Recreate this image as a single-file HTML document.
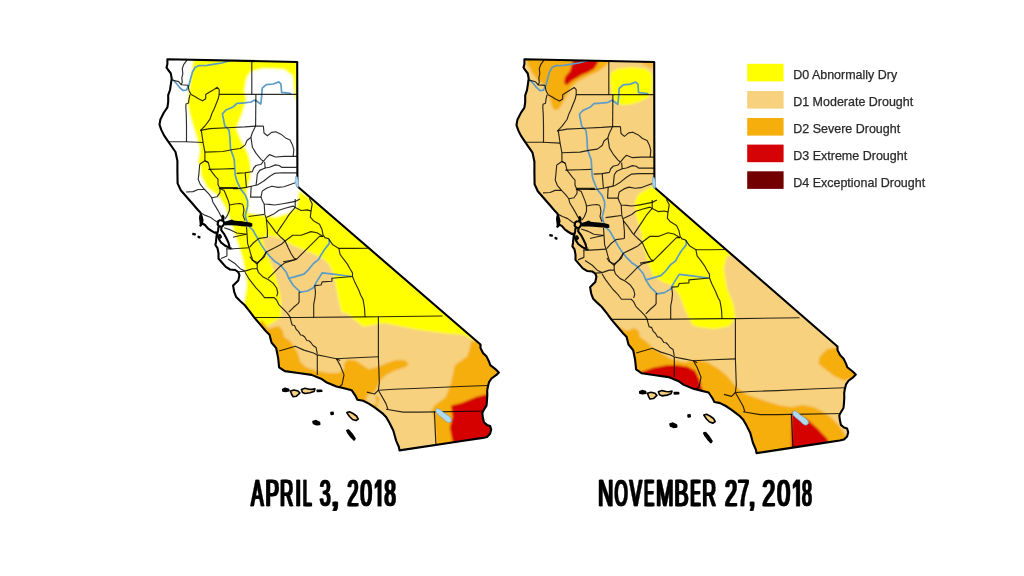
<!DOCTYPE html>
<html><head><meta charset="utf-8"><style>
html,body{margin:0;padding:0;background:#fff;width:1024px;height:576px;overflow:hidden;position:relative;font-family:"Liberation Sans",sans-serif;}
</style></head><body>
<svg width="1024" height="576" viewBox="0 0 1024 576" style="position:absolute;left:0;top:0;filter:blur(0.35px)">
<defs>
<clipPath id="ca"><polygon points="167.4,59.2 167.4,63.9 166.5,67.4 168.2,70.0 170.8,73.4 171.7,78.6 170.8,84.7 170.0,90.0 168.2,95.1 168.2,102.0 167.4,107.3 163.9,112.5 160.4,119.4 159.5,124.6 161.3,129.9 163.9,135.1 167.4,140.3 171.0,145.5 175.5,152.0 177.4,160.8 177.4,171.3 177.6,183.4 180.8,190.3 186.9,197.3 193.0,204.2 198.2,210.3 200.4,212.5 201.5,216.0 202.5,220.0 201.5,224.0 200.4,225.5 202.5,223.5 205.0,225.0 208.0,228.5 211.5,230.8 214.9,232.8 216.8,232.6 216.6,235.4 216.0,241.7 215.4,245.0 217.5,248.1 218.5,253.3 218.5,258.5 221.7,262.2 225.8,266.9 230.0,269.5 235.2,270.0 238.3,272.1 239.4,275.2 238.3,280.4 235.2,283.5 233.1,285.6 234.2,291.9 236.2,297.1 240.4,301.2 244.6,305.0 249.3,310.8 254.5,317.8 259.7,323.9 265.7,331.0 269.5,334.8 271.5,342.5 276.2,348.2 278.1,357.7 279.1,367.3 284.8,371.1 298.2,373.0 311.6,374.9 321.1,378.7 326.8,382.6 336.4,386.4 344.0,388.3 351.6,390.2 355.5,395.9 357.4,399.7 363.1,400.7 368.8,403.6 374.6,407.4 382.2,413.1 386.0,416.9 389.0,422.0 393.3,430.5 396.0,440.3 398.9,447.0 399.5,450.4 462.0,441.0 482.8,437.9 487.0,436.9 490.1,433.8 491.2,429.6 490.1,425.9 487.0,424.9 483.9,422.3 482.8,417.1 482.3,412.9 483.9,409.8 486.5,405.6 487.0,400.4 487.3,395.0 487.2,390.7 487.8,387.0 489.0,382.2 491.5,378.5 496.4,374.9 498.8,372.4 495.1,368.8 490.3,365.1 489.0,361.5 486.6,356.6 483.0,353.0 480.5,348.1 480.5,344.5 299.0,187.8 297.4,186.0 297.2,62.0"/></clipPath>
<filter id="soft" x="-5%" y="-5%" width="110%" height="110%"><feGaussianBlur stdDeviation="0.9"/></filter>
</defs>
<g><g clip-path="url(#ca)"><g filter="url(#soft)"><rect x="100" y="40" width="450" height="430" fill="#ffffff"/><polygon points="240.0,330.0 262.5,237.5 270.8,235.4 281.2,238.5 291.7,244.8 304.2,250.0 314.6,254.2 323.0,258.3 329.2,264.6 333.3,273.0 335.4,283.3 337.5,293.8 339.6,304.2 341.7,312.5 346.0,312.8 363.3,326.7 384.0,320.0 419.0,326.0 446.7,329.0 467.5,331.0 500.0,328.0 500.0,460.0 240.0,460.0" fill="#f7d17e" /><polygon points="193.5,58.0 297.5,58.0 297.5,103.0 294.6,96.7 293.5,86.2 292.5,75.8 284.2,69.6 263.3,68.5 250.8,71.7 246.7,77.9 244.6,90.4 246.7,98.8 242.5,113.3 238.3,123.8 236.2,128.0 240.4,138.3 244.6,146.7 248.8,155.0 250.8,165.4 250.8,177.5 246.7,192.0 248.8,200.4 248.8,213.0 263.3,215.0 275.8,217.0 288.3,213.0 296.7,206.7 299.0,190.0 500.0,338.0 476.0,341.0 472.0,339.0 462.0,334.5 446.7,333.6 419.0,330.0 384.0,323.0 363.3,326.7 346.0,312.8 341.7,312.5 339.6,304.2 337.5,293.8 335.4,283.3 333.3,273.0 329.2,264.6 323.0,258.3 314.6,254.2 304.2,250.0 291.7,244.8 281.2,238.5 270.8,235.4 262.5,237.5 264.6,248.0 268.8,258.3 273.0,268.8 277.0,281.2 280.2,293.8 281.2,304.2 281.2,316.7 277.0,320.0 266.7,326.5 240.0,330.0 246.7,285.0 244.6,269.0 242.5,258.8 239.4,248.3 235.2,235.8 232.0,225.4 228.0,215.0 224.8,206.7 218.5,196.2 207.0,188.0 200.8,175.4 199.8,165.0 197.7,163.3 199.8,148.8 195.6,134.2 190.4,117.5 187.3,102.9 189.4,86.2 191.5,71.7" fill="#ffff00" /><polygon points="262.0,320.0 268.6,329.1 273.4,327.2 279.1,326.2 282.9,331.0 283.9,336.7 290.5,341.5 294.4,347.2 298.2,353.9 300.1,361.6 305.8,367.3 317.3,371.1 328.7,373.0 338.3,373.0 344.0,369.2 344.0,363.5 347.8,359.6 355.5,360.6 363.1,365.4 368.8,369.2 376.5,367.3 386.0,363.5 395.6,360.0 405.1,360.0 408.9,364.4 405.1,367.3 393.7,371.1 386.0,374.9 380.3,380.6 377.4,386.4 374.6,392.1 368.8,394.0 366.0,397.8 367.0,402.0 372.0,405.0 378.0,404.0 379.3,398.0 375.0,394.5 380.0,420.0 340.0,400.0 270.0,380.0 255.0,330.0" fill="#f6ae0c" /><polygon points="472.0,341.5 470.8,342.0 469.6,349.3 467.2,356.6 459.9,361.5 455.0,365.1 453.9,369.4 451.0,383.3 445.6,397.2 434.4,405.6 431.7,409.7 434.4,419.4 435.8,438.9 437.0,446.0 500.0,446.0 500.0,338.0" fill="#f6ae0c" /><polygon points="451.0,405.5 462.0,402.8 476.0,397.0 485.8,394.4 495.0,394.0 495.0,446.0 452.5,446.0 452.5,441.7 449.7,427.8 452.5,416.7" fill="#d50206" /></g><polyline points="172.6,79.5 176.0,83.0 179.5,87.3 183.0,90.5 186.5,90.0 189.0,85.0 190.8,78.0 192.5,72.0 195.0,67.5 199.0,65.6 207.0,65.4 216.0,63.9 221.7,63.0 228.0,61.2 235.0,59.5" fill="none" stroke="#5c9cc6" stroke-width="1.7" stroke-linejoin="round"/><polyline points="244.7,102.8 237.0,103.4 233.0,107.0 226.0,110.0 222.4,113.9 224.8,125.8 229.0,130.0 230.0,138.3 230.5,148.8 234.2,159.2 235.2,175.0 236.6,180.1 240.3,188.6 245.2,194.7 247.6,200.8 247.6,206.1 245.2,215.8 247.6,224.0" fill="none" stroke="#5c9cc6" stroke-width="1.7" stroke-linejoin="round"/><polyline points="244.7,102.8 251.0,102.0 255.0,100.0 260.8,104.0 261.5,97.8 262.2,88.1 266.3,84.6 273.3,84.0 278.8,81.9 280.9,84.0 281.6,92.3 288.5,93.0 291.3,93.7" fill="none" stroke="#5c9cc6" stroke-width="1.7" stroke-linejoin="round"/><polyline points="247.6,224.0 248.6,225.9 252.8,230.0 257.0,237.3 261.1,244.6 265.3,250.9 269.5,256.0 274.7,261.3 280.3,265.0 286.3,272.3 288.8,278.3 293.6,277.1 303.9,274.1 308.8,269.3 313.7,263.2 318.5,259.6 321.0,255.0 324.3,249.7 329.2,243.6 329.2,238.8" fill="none" stroke="#5c9cc6" stroke-width="1.7" stroke-linejoin="round"/><polyline points="288.8,278.3 293.0,285.0 300.3,292.2 307.6,291.0 313.7,287.4 316.1,282.6 322.2,272.9 333.1,274.1 351.3,276.5" fill="none" stroke="#5c9cc6" stroke-width="1.7" stroke-linejoin="round"/><polyline points="187.0,60.2 183.8,64.4 182.3,68.5 182.8,73.8 181.8,77.9 182.3,82.1 181.2,84.7" fill="none" stroke="#000" stroke-opacity="0.82" stroke-width="1.15" stroke-linejoin="round"/><polyline points="170.3,79.5 178.6,81.6 181.2,84.7 188.0,85.2" fill="none" stroke="#000" stroke-opacity="0.82" stroke-width="1.15" stroke-linejoin="round"/><polyline points="188.0,85.2 189.0,90.4 191.1,94.6 195.3,96.7 198.4,98.8 202.6,100.8 205.7,98.8 205.7,94.6 208.8,92.5 214.0,89.4 217.2,87.3 219.2,89.4 219.2,94.4 297.5,94.4" fill="none" stroke="#000" stroke-opacity="0.82" stroke-width="1.15" stroke-linejoin="round"/><polyline points="251.8,59.5 251.8,94.4" fill="none" stroke="#000" stroke-opacity="0.82" stroke-width="1.15" stroke-linejoin="round"/><polyline points="190.0,94.6 189.0,98.8 188.5,103.0 186.0,104.0 185.8,107.0 186.3,115.0 186.5,125.0 186.5,142.0" fill="none" stroke="#000" stroke-opacity="0.82" stroke-width="1.15" stroke-linejoin="round"/><polyline points="219.2,94.4 218.2,98.8 216.1,104.0 214.0,109.2 212.0,113.3 210.0,119.1 204.9,126.0 200.5,130.4" fill="none" stroke="#000" stroke-opacity="0.82" stroke-width="1.15" stroke-linejoin="round"/><polyline points="200.5,130.4 210.0,128.6 227.4,127.8 244.8,126.9 255.6,126.1 263.4,126.1" fill="none" stroke="#000" stroke-opacity="0.82" stroke-width="1.15" stroke-linejoin="round"/><polyline points="255.9,94.4 255.6,126.1" fill="none" stroke="#000" stroke-opacity="0.82" stroke-width="1.15" stroke-linejoin="round"/><polyline points="263.4,126.1 264.0,133.0 267.4,135.8 271.6,132.4 275.8,131.7 281.3,134.4 285.5,137.9 290.1,140.0 292.5,144.9 293.8,149.7 293.2,156.4" fill="none" stroke="#000" stroke-opacity="0.82" stroke-width="1.15" stroke-linejoin="round"/><polyline points="200.5,130.4 201.4,131.2 203.1,142.5" fill="none" stroke="#000" stroke-opacity="0.82" stroke-width="1.15" stroke-linejoin="round"/><polyline points="168.5,141.7 185.8,141.7 203.1,142.5" fill="none" stroke="#000" stroke-opacity="0.82" stroke-width="1.15" stroke-linejoin="round"/><polyline points="203.1,142.5 204.9,152.1 204.9,160.8 208.3,162.5" fill="none" stroke="#000" stroke-opacity="0.82" stroke-width="1.15" stroke-linejoin="round"/><polyline points="255.6,126.1 252.2,133.0 250.8,137.5 247.0,140.5 245.2,144.9 240.3,148.5 233.0,149.5 223.0,151.5 204.9,152.1" fill="none" stroke="#000" stroke-opacity="0.82" stroke-width="1.15" stroke-linejoin="round"/><polyline points="251.0,137.5 252.4,147.3 256.1,153.4 261.0,159.4 263.4,161.3" fill="none" stroke="#000" stroke-opacity="0.82" stroke-width="1.15" stroke-linejoin="round"/><polyline points="263.4,161.3 267.0,157.0 269.5,154.6 275.5,157.0 284.0,156.4 297.4,156.4" fill="none" stroke="#000" stroke-opacity="0.82" stroke-width="1.15" stroke-linejoin="round"/><polyline points="263.4,161.3 261.0,164.3 256.1,165.5 253.7,168.0 252.4,171.6 245.2,172.8 236.6,173.4" fill="none" stroke="#000" stroke-opacity="0.82" stroke-width="1.15" stroke-linejoin="round"/><polyline points="264.6,161.9 265.2,168.0 269.5,167.3 275.5,164.9 279.2,165.5 281.6,167.3 297.4,167.3" fill="none" stroke="#000" stroke-opacity="0.82" stroke-width="1.15" stroke-linejoin="round"/><polyline points="265.2,168.0 259.7,170.4 257.3,174.0 256.7,180.1 256.1,185.0" fill="none" stroke="#000" stroke-opacity="0.82" stroke-width="1.15" stroke-linejoin="round"/><polyline points="257.3,185.0 263.4,181.3 269.5,176.5 274.3,173.4 281.6,172.8 297.4,172.8" fill="none" stroke="#000" stroke-opacity="0.82" stroke-width="1.15" stroke-linejoin="round"/><polyline points="245.2,172.8 245.8,180.1 246.4,187.4" fill="none" stroke="#000" stroke-opacity="0.82" stroke-width="1.15" stroke-linejoin="round"/><polyline points="233.0,188.6 237.9,188.6 246.4,187.4 251.2,186.2 257.3,185.0" fill="none" stroke="#000" stroke-opacity="0.82" stroke-width="1.15" stroke-linejoin="round"/><polyline points="262.2,191.0 267.0,188.0 271.9,186.2 278.0,187.4 284.0,186.8 292.5,183.7 296.0,182.5" fill="none" stroke="#000" stroke-opacity="0.82" stroke-width="1.15" stroke-linejoin="round"/><polyline points="251.2,186.2 250.6,197.1 261.0,197.1 262.2,191.0" fill="none" stroke="#000" stroke-opacity="0.82" stroke-width="1.15" stroke-linejoin="round"/><polyline points="208.3,169.4 222.0,169.0 234.4,168.6" fill="none" stroke="#000" stroke-opacity="0.82" stroke-width="1.15" stroke-linejoin="round"/><polyline points="218.8,188.5 237.9,188.5" fill="none" stroke="#000" stroke-opacity="0.82" stroke-width="1.15" stroke-linejoin="round"/><polyline points="199.7,164.2 198.8,174.7 198.2,179.2 200.3,184.4 204.5,189.5 208.6,193.7 211.8,197.8 217.0,196.8 220.0,192.6 220.0,188.5 218.0,184.4 218.0,179.2 215.3,176.4 210.0,169.4 208.3,162.5 204.9,160.8 199.7,164.2" fill="none" stroke="#000" stroke-opacity="0.82" stroke-width="1.15" stroke-linejoin="round"/><polyline points="186.0,192.0 193.0,191.6 198.2,189.5 204.5,189.5" fill="none" stroke="#000" stroke-opacity="0.82" stroke-width="1.15" stroke-linejoin="round"/><polyline points="211.8,197.8 212.8,202.0 216.0,207.1 219.0,212.3 221.1,216.4" fill="none" stroke="#000" stroke-opacity="0.82" stroke-width="1.15" stroke-linejoin="round"/><polyline points="220.0,188.5 224.2,190.6 226.3,195.7 228.4,200.9 229.5,205.0 229.5,210.2 227.4,215.4 225.0,219.0" fill="none" stroke="#000" stroke-opacity="0.82" stroke-width="1.15" stroke-linejoin="round"/><polyline points="229.5,205.0 234.7,204.0 239.9,203.5 243.0,204.5" fill="none" stroke="#000" stroke-opacity="0.82" stroke-width="1.15" stroke-linejoin="round"/><polyline points="220.0,187.5 229.5,187.5 237.8,187.5" fill="none" stroke="#000" stroke-opacity="0.82" stroke-width="1.15" stroke-linejoin="round"/><polyline points="243.0,205.0 244.0,210.2 243.0,215.4 245.0,220.6" fill="none" stroke="#000" stroke-opacity="0.82" stroke-width="1.15" stroke-linejoin="round"/><polyline points="201.3,213.3 205.5,215.4 210.7,217.5 214.9,220.6 218.0,222.6" fill="none" stroke="#000" stroke-opacity="0.82" stroke-width="1.15" stroke-linejoin="round"/><polyline points="224.2,227.8 230.5,229.9 236.8,233.0 245.0,234.0 246.5,234.2" fill="none" stroke="#000" stroke-opacity="0.82" stroke-width="1.15" stroke-linejoin="round"/><polyline points="221.0,258.5 226.9,256.0 226.9,249.2" fill="none" stroke="#000" stroke-opacity="0.82" stroke-width="1.15" stroke-linejoin="round"/><polyline points="261.0,197.1 262.5,201.0 264.2,204.0 269.5,204.4 274.7,205.0 283.0,203.8" fill="none" stroke="#000" stroke-opacity="0.82" stroke-width="1.15" stroke-linejoin="round"/><polyline points="248.6,216.5 255.9,215.5 264.2,214.4" fill="none" stroke="#000" stroke-opacity="0.82" stroke-width="1.15" stroke-linejoin="round"/><polyline points="264.2,204.0 264.8,214.4 266.3,218.6 266.9,224.8 267.4,230.0 267.4,237.3" fill="none" stroke="#000" stroke-opacity="0.82" stroke-width="1.15" stroke-linejoin="round"/><polyline points="267.4,237.3 259.0,238.4 253.8,242.5 249.7,247.2" fill="none" stroke="#000" stroke-opacity="0.82" stroke-width="1.15" stroke-linejoin="round"/><polyline points="266.3,217.5 274.7,213.4 278.8,210.2 285.1,208.2 293.0,206.1 295.2,207.4" fill="none" stroke="#000" stroke-opacity="0.82" stroke-width="1.15" stroke-linejoin="round"/><polyline points="266.3,219.6 270.5,224.8 275.7,232.1 280.9,237.3 285.1,241.0" fill="none" stroke="#000" stroke-opacity="0.82" stroke-width="1.15" stroke-linejoin="round"/><polyline points="276.8,233.2 280.9,226.9 285.1,220.7 289.2,214.4 295.2,207.4" fill="none" stroke="#000" stroke-opacity="0.82" stroke-width="1.15" stroke-linejoin="round"/><polyline points="285.1,241.0 292.7,235.2 301.2,235.2 311.0,231.6 317.0,232.8 323.1,236.4" fill="none" stroke="#000" stroke-opacity="0.82" stroke-width="1.15" stroke-linejoin="round"/><polyline points="285.1,241.0 288.2,247.8 291.3,254.0 294.0,258.1 296.4,259.3" fill="none" stroke="#000" stroke-opacity="0.82" stroke-width="1.15" stroke-linejoin="round"/><polyline points="257.0,264.0 262.2,258.2 266.3,251.9 274.7,247.8 280.9,244.6 285.1,241.0" fill="none" stroke="#000" stroke-opacity="0.82" stroke-width="1.15" stroke-linejoin="round"/><polyline points="246.5,226.9 247.1,235.2 247.6,243.6 249.1,247.8 250.7,254.0 252.8,260.2 257.0,264.0" fill="none" stroke="#000" stroke-opacity="0.82" stroke-width="1.15" stroke-linejoin="round"/><polyline points="233.0,237.3 239.2,235.8 246.5,234.2" fill="none" stroke="#000" stroke-opacity="0.82" stroke-width="1.15" stroke-linejoin="round"/><polyline points="226.0,248.8 233.0,248.8 241.3,248.3 249.1,247.8" fill="none" stroke="#000" stroke-opacity="0.82" stroke-width="1.15" stroke-linejoin="round"/><polyline points="295.2,207.4 301.2,210.5 307.3,209.9 311.0,211.1 310.3,217.1 313.4,220.7 319.5,224.3 321.9,229.2 323.1,235.2 324.9,237.6 328.6,238.8 332.8,244.8 338.9,248.4 353.0,248.4 370.0,248.2" fill="none" stroke="#000" stroke-opacity="0.82" stroke-width="1.15" stroke-linejoin="round"/><polyline points="311.0,211.1 312.2,203.8 309.7,199.0 310.0,197.0" fill="none" stroke="#000" stroke-opacity="0.82" stroke-width="1.15" stroke-linejoin="round"/><polyline points="295.2,199.0 295.2,207.4" fill="none" stroke="#000" stroke-opacity="0.82" stroke-width="1.15" stroke-linejoin="round"/><polyline points="283.0,203.8 289.1,202.6 295.2,201.4 300.0,199.0" fill="none" stroke="#000" stroke-opacity="0.82" stroke-width="1.15" stroke-linejoin="round"/><polyline points="296.4,259.3 304.9,250.9 312.2,243.6 319.5,236.4 323.1,236.4" fill="none" stroke="#000" stroke-opacity="0.82" stroke-width="1.15" stroke-linejoin="round"/><polyline points="283.0,261.7 290.3,260.5 296.4,259.3" fill="none" stroke="#000" stroke-opacity="0.82" stroke-width="1.15" stroke-linejoin="round"/><polyline points="338.9,248.4 340.1,254.5 343.8,259.3 347.4,264.1 349.8,268.5 352.5,272.9 352.5,276.5 355.0,282.6 358.6,289.8 361.0,295.8 363.0,299.4 364.5,308.0 365.0,316.9" fill="none" stroke="#000" stroke-opacity="0.82" stroke-width="1.15" stroke-linejoin="round"/><polyline points="352.5,276.5 331.9,278.3 331.9,281.3 322.2,281.9 321.0,285.0 314.9,285.6 314.9,287.4" fill="none" stroke="#000" stroke-opacity="0.82" stroke-width="1.15" stroke-linejoin="round"/><polyline points="314.9,287.4 315.5,292.2 314.9,298.2 313.7,304.3 313.7,317.5" fill="none" stroke="#000" stroke-opacity="0.82" stroke-width="1.15" stroke-linejoin="round"/><polyline points="254.7,317.5 298.0,317.5 363.0,316.9 378.5,316.8 442.5,316.0" fill="none" stroke="#000" stroke-opacity="0.82" stroke-width="1.15" stroke-linejoin="round"/><polyline points="288.8,312.1 293.6,307.3 298.0,303.6 299.1,301.9 299.1,292.2 300.3,292.2" fill="none" stroke="#000" stroke-opacity="0.82" stroke-width="1.15" stroke-linejoin="round"/><polyline points="245.0,272.3 248.7,278.3 252.3,283.1 256.0,287.9 260.8,292.8 264.5,297.6 270.5,297.6 274.2,297.6 276.6,300.0 279.0,304.9 283.9,309.7 287.5,313.3 290.0,316.9 291.0,321.0 292.2,325.0 294.5,325.5 296.3,329.5 298.4,331.4 300.5,335.0 302.5,335.2 304.7,337.0 306.8,340.5 309.0,340.8 310.9,342.5 313.0,345.5 316.1,347.5 317.3,353.9" fill="none" stroke="#000" stroke-opacity="0.82" stroke-width="1.15" stroke-linejoin="round"/><polyline points="257.2,268.7 258.4,272.3 263.2,277.1 268.1,279.5 273.0,283.1 276.6,288.0 277.8,292.8 276.6,296.4" fill="none" stroke="#000" stroke-opacity="0.82" stroke-width="1.15" stroke-linejoin="round"/><polyline points="268.1,278.3 274.2,272.3 280.3,266.2 285.1,262.6 293.6,260.2 296.4,259.3" fill="none" stroke="#000" stroke-opacity="0.82" stroke-width="1.15" stroke-linejoin="round"/><polyline points="249.9,256.6 252.3,260.2 257.2,262.6 257.2,268.7" fill="none" stroke="#000" stroke-opacity="0.82" stroke-width="1.15" stroke-linejoin="round"/><polyline points="228.0,259.0 235.3,263.8 240.2,268.7 245.0,271.1" fill="none" stroke="#000" stroke-opacity="0.82" stroke-width="1.15" stroke-linejoin="round"/><polyline points="238.9,271.7 245.0,271.1 252.3,268.7 257.2,268.7" fill="none" stroke="#000" stroke-opacity="0.82" stroke-width="1.15" stroke-linejoin="round"/><polyline points="257.2,262.6 262.0,259.0 264.5,256.6 266.3,251.9" fill="none" stroke="#000" stroke-opacity="0.82" stroke-width="1.15" stroke-linejoin="round"/><polyline points="279.1,351.0 288.6,348.2 295.3,346.3 303.9,350.1 313.5,353.0 317.3,354.9" fill="none" stroke="#000" stroke-opacity="0.82" stroke-width="1.15" stroke-linejoin="round"/><polyline points="317.3,354.9 326.8,356.8 336.4,358.7 340.2,360.6" fill="none" stroke="#000" stroke-opacity="0.82" stroke-width="1.15" stroke-linejoin="round"/><polyline points="317.3,354.9 317.3,374.9" fill="none" stroke="#000" stroke-opacity="0.82" stroke-width="1.15" stroke-linejoin="round"/><polyline points="336.4,358.7 340.2,365.4 344.0,374.9 342.1,384.5 338.0,388.0" fill="none" stroke="#000" stroke-opacity="0.82" stroke-width="1.15" stroke-linejoin="round"/><polyline points="336.4,358.7 355.5,357.7 378.4,356.8" fill="none" stroke="#000" stroke-opacity="0.82" stroke-width="1.15" stroke-linejoin="round"/><polyline points="378.4,316.8 378.4,356.8 379.3,382.6 378.4,390.2" fill="none" stroke="#000" stroke-opacity="0.82" stroke-width="1.15" stroke-linejoin="round"/><polyline points="366.9,392.1 374.6,394.0 378.4,390.2" fill="none" stroke="#000" stroke-opacity="0.82" stroke-width="1.15" stroke-linejoin="round"/><polyline points="378.4,390.2 386.0,403.6 387.9,409.3" fill="none" stroke="#000" stroke-opacity="0.82" stroke-width="1.15" stroke-linejoin="round"/><polyline points="378.4,390.2 393.7,389.2 420.0,388.3 460.0,386.5 487.5,385.5" fill="none" stroke="#000" stroke-opacity="0.82" stroke-width="1.15" stroke-linejoin="round"/><polyline points="386.0,409.3 403.2,412.1 420.0,412.1 486.0,411.0" fill="none" stroke="#000" stroke-opacity="0.82" stroke-width="1.15" stroke-linejoin="round"/><polyline points="434.4,411.5 435.0,425.0 436.0,447.0" fill="none" stroke="#000" stroke-opacity="0.82" stroke-width="1.15" stroke-linejoin="round"/><polygon points="221.0,216.0 223.0,214.6 224.6,216.8 224.4,220.0 221.8,220.8" fill="#000"/><polygon points="224.2,221.8 228.0,220.8 231.7,219.4 233.8,220.6 238.0,221.1 242.1,221.3 246.0,221.9 250.0,222.6 252.3,223.6 252.3,226.6 250.0,226.8 246.0,226.4 242.1,226.2 236.0,225.6 231.7,225.3 228.0,225.3 224.4,225.4" fill="#000"/><polyline points="208.0,230.8 211.5,231.3 214.9,233.4 216.2,232.0" fill="none" stroke="#000" stroke-width="2.1" stroke-linejoin="round"/><polyline points="220.6,219.9 223.5,221.0 224.2,223.5 222.6,226.3 219.5,226.6 217.6,224.5 218.2,221.2 220.6,219.9" fill="none" stroke="#000" stroke-width="2.1" stroke-linejoin="round"/><polyline points="218.6,226.4 218.1,230.2 217.1,234.4 219.2,239.6 221.2,242.7 225.4,245.8 229.6,247.9 231.5,248.4" fill="none" stroke="#000" stroke-width="2.1" stroke-linejoin="round"/><polyline points="221.6,226.4 221.2,230.2 224.4,234.4 226.5,238.5 228.5,242.7 229.6,246.9" fill="none" stroke="#000" stroke-width="2.1" stroke-linejoin="round"/><polyline points="218.4,235.5 220.0,235.0 221.0,237.0 219.5,238.2 218.2,237.0" fill="none" stroke="#000" stroke-width="2.1" stroke-linejoin="round"/></g><polygon points="167.4,59.2 167.4,63.9 166.5,67.4 168.2,70.0 170.8,73.4 171.7,78.6 170.8,84.7 170.0,90.0 168.2,95.1 168.2,102.0 167.4,107.3 163.9,112.5 160.4,119.4 159.5,124.6 161.3,129.9 163.9,135.1 167.4,140.3 171.0,145.5 175.5,152.0 177.4,160.8 177.4,171.3 177.6,183.4 180.8,190.3 186.9,197.3 193.0,204.2 198.2,210.3 200.4,212.5 201.5,216.0 202.5,220.0 201.5,224.0 200.4,225.5 202.5,223.5 205.0,225.0 208.0,228.5 211.5,230.8 214.9,232.8 216.8,232.6 216.6,235.4 216.0,241.7 215.4,245.0 217.5,248.1 218.5,253.3 218.5,258.5 221.7,262.2 225.8,266.9 230.0,269.5 235.2,270.0 238.3,272.1 239.4,275.2 238.3,280.4 235.2,283.5 233.1,285.6 234.2,291.9 236.2,297.1 240.4,301.2 244.6,305.0 249.3,310.8 254.5,317.8 259.7,323.9 265.7,331.0 269.5,334.8 271.5,342.5 276.2,348.2 278.1,357.7 279.1,367.3 284.8,371.1 298.2,373.0 311.6,374.9 321.1,378.7 326.8,382.6 336.4,386.4 344.0,388.3 351.6,390.2 355.5,395.9 357.4,399.7 363.1,400.7 368.8,403.6 374.6,407.4 382.2,413.1 386.0,416.9 389.0,422.0 393.3,430.5 396.0,440.3 398.9,447.0 399.5,450.4 462.0,441.0 482.8,437.9 487.0,436.9 490.1,433.8 491.2,429.6 490.1,425.9 487.0,424.9 483.9,422.3 482.8,417.1 482.3,412.9 483.9,409.8 486.5,405.6 487.0,400.4 487.3,395.0 487.2,390.7 487.8,387.0 489.0,382.2 491.5,378.5 496.4,374.9 498.8,372.4 495.1,368.8 490.3,365.1 489.0,361.5 486.6,356.6 483.0,353.0 480.5,348.1 480.5,344.5 299.0,187.8 297.4,186.0 297.2,62.0" fill="none" stroke="#000" stroke-width="2.1" stroke-linejoin="round"/><polygon points="282.7,389.5 285.0,388.3 288.5,389.2 289.0,390.8 285.5,391.5 283.0,391.0" fill="#000" stroke="#000" stroke-width="1.6" stroke-linejoin="round"/><polygon points="290.5,391.0 294.0,389.9 298.0,391.0 299.9,393.0 296.5,396.2 293.0,396.7 291.5,394.0" fill="#f7d17e" stroke="#000" stroke-width="1.6" stroke-linejoin="round"/><polygon points="301.4,389.5 305.0,388.3 309.0,389.2 312.0,389.4 315.0,388.8 314.0,391.5 310.0,392.8 305.0,393.5 302.5,392.5" fill="#f7d17e" stroke="#000" stroke-width="1.6" stroke-linejoin="round"/><polygon points="317.2,390.3 321.5,390.2 321.7,391.3 317.4,391.5" fill="#000" stroke="#000" stroke-width="1.6" stroke-linejoin="round"/><polygon points="331.0,412.5 333.0,412.3 333.2,414.2 331.2,414.4" fill="#000" stroke="#000" stroke-width="1.6" stroke-linejoin="round"/><polygon points="313.0,421.5 316.0,420.6 319.5,422.5 319.7,424.4 316.5,424.8 313.5,423.5" fill="#000" stroke="#000" stroke-width="1.6" stroke-linejoin="round"/><polygon points="346.8,412.6 349.5,411.8 353.0,413.5 356.5,416.0 358.2,419.0 356.0,420.6 352.5,419.5 349.5,416.5" fill="#f7d17e" stroke="#000" stroke-width="1.6" stroke-linejoin="round"/><polygon points="346.8,430.5 348.5,430.0 352.0,434.0 355.0,438.5 354.0,440.0 351.0,437.0 348.0,433.0" fill="#000" stroke="#000" stroke-width="1.6" stroke-linejoin="round"/><polygon points="193.0,233.6 195.2,234.0 195.0,234.8 193.0,234.4" fill="#000" stroke="#000" stroke-width="1.6" stroke-linejoin="round"/><polygon points="198.3,236.4 199.8,236.9 199.6,237.7 198.2,237.2" fill="#000" stroke="#000" stroke-width="1.6" stroke-linejoin="round"/><polygon points="200.2,215.0 201.6,217.0 202.3,221.0 201.6,224.5 200.6,225.6 200.3,222.0 199.8,218.0" fill="#000" stroke="#000" stroke-width="1.6" stroke-linejoin="round"/><polygon points="435.6,409.6 437.6,408.4 440.0,409.6 443.6,412.6 448.2,415.6 451.2,418.4 451.4,421.2 449.0,422.8 446.2,421.6 443.2,418.8 439.2,415.6 436.0,412.6" fill="#b0daee" stroke="#7b9fb5" stroke-width="0.7"/><polygon points="295.5,176.5 297.5,177.0 298.6,182.0 298.3,187.4 296.5,187.0 295.2,182.0" fill="#a8d4ee" stroke="#7aa6c4" stroke-width="0.6"/></g>
<g transform="translate(357,59.7) scale(1,1.007) translate(0,-59.7)"><g clip-path="url(#ca)"><g filter="url(#soft)"><rect x="100" y="40" width="450" height="430" fill="#f7d17e"/><polygon points="169.0,58.0 251.5,58.0 251.5,63.0 246.0,67.9 240.0,71.9 233.0,74.9 228.8,76.9 221.3,80.9 215.0,86.1 212.0,91.3 207.8,98.5 204.7,104.7 201.5,108.9 197.4,109.8 195.3,106.7 193.2,99.5 190.0,91.3 187.0,85.0 179.7,78.9 177.6,75.7 174.5,71.6 171.3,65.4 169.2,60.2" fill="#f6ae0c" /><polygon points="281.0,58.0 300.0,58.0 300.0,68.4 292.0,67.4 285.0,64.0" fill="#f6ae0c" fill-opacity="0.55"/><polygon points="216.3,58.0 241.5,58.0 241.0,63.0 237.0,68.9 231.0,72.4 224.7,74.8 214.2,81.1 210.0,85.1 207.0,83.1 208.0,76.9 213.2,70.7" fill="#d50206" /><polygon points="253.8,72.7 260.8,68.6 274.7,67.2 288.6,68.6 294.1,72.7 295.5,79.7 294.8,90.7 291.3,97.5 281.6,101.7 271.9,104.5 263.6,104.5 258.0,101.7 255.2,94.8 253.8,86.5 253.1,78.3" fill="#ffff00" /><polygon points="297.5,185.1 303.0,185.1 383.0,253.6 370.0,254.2 366.8,267.3 370.0,287.0 376.7,303.3 378.3,316.5 371.7,324.7 357.3,327.2 342.0,325.3 335.4,323.1 328.8,309.9 322.2,293.6 315.6,283.7 305.7,280.5 295.8,273.9 290.9,260.8 285.9,244.4 284.3,231.3 279.3,214.9 277.7,201.8 281.0,193.7 289.2,188.7" fill="#ffff00" /><polygon points="258.0,323.2 270.4,329.1 277.1,326.2 281.9,329.1 282.8,334.8 290.5,340.5 296.2,346.2 305.7,351.9 315.3,357.5 326.7,360.4 340.0,357.6 351.1,360.4 362.2,367.2 370.6,374.2 376.1,381.1 381.7,386.6 390.0,392.1 401.1,396.2 412.2,399.8 423.3,403.2 434.4,404.5 445.6,402.6 456.7,404.5 465.0,408.7 473.3,414.2 481.7,422.5 487.2,430.7 490.0,436.3 493.0,457.2 343.0,457.2 263.0,377.8" fill="#f6ae0c" /><polygon points="277.0,372.3 282.8,370.3 296.2,365.5 309.6,363.2 319.1,362.9 330.6,364.7 338.2,368.5 342.0,376.5 344.9,386.0 346.5,390.7 342.0,395.6 323.0,387.7 303.0,377.8 277.0,375.8" fill="#d50206" /><polygon points="482.1,344.7 470.0,347.2 462.7,354.4 461.5,361.7 467.5,366.5 477.3,373.7 487.0,378.6 494.3,376.2 503.0,372.5 503.0,338.1" fill="#f6ae0c" /><polygon points="434.4,414.2 435.8,408.7 440.0,411.5 445.6,414.2 451.0,417.5 456.7,422.5 461.0,426.4 465.0,430.7 470.6,436.3 473.0,447.3 434.4,447.3" fill="#d50206" /></g><polyline points="172.6,79.5 176.0,83.0 179.5,87.3 183.0,90.5 186.5,90.0 189.0,85.0 190.8,78.0 192.5,72.0 195.0,67.5 199.0,65.6 207.0,65.4 216.0,63.9 221.7,63.0 228.0,61.2 235.0,59.5" fill="none" stroke="#5c9cc6" stroke-width="1.7" stroke-linejoin="round"/><polyline points="244.7,102.8 237.0,103.4 233.0,107.0 226.0,110.0 222.4,113.9 224.8,125.8 229.0,130.0 230.0,138.3 230.5,148.8 234.2,159.2 235.2,175.0 236.6,180.1 240.3,188.6 245.2,194.7 247.6,200.8 247.6,206.1 245.2,215.8 247.6,224.0" fill="none" stroke="#5c9cc6" stroke-width="1.7" stroke-linejoin="round"/><polyline points="244.7,102.8 251.0,102.0 255.0,100.0 260.8,104.0 261.5,97.8 262.2,88.1 266.3,84.6 273.3,84.0 278.8,81.9 280.9,84.0 281.6,92.3 288.5,93.0 291.3,93.7" fill="none" stroke="#5c9cc6" stroke-width="1.7" stroke-linejoin="round"/><polyline points="247.6,224.0 248.6,225.9 252.8,230.0 257.0,237.3 261.1,244.6 265.3,250.9 269.5,256.0 274.7,261.3 280.3,265.0 286.3,272.3 288.8,278.3 293.6,277.1 303.9,274.1 308.8,269.3 313.7,263.2 318.5,259.6 321.0,255.0 324.3,249.7 329.2,243.6 329.2,238.8" fill="none" stroke="#5c9cc6" stroke-width="1.7" stroke-linejoin="round"/><polyline points="288.8,278.3 293.0,285.0 300.3,292.2 307.6,291.0 313.7,287.4 316.1,282.6 322.2,272.9 333.1,274.1 351.3,276.5" fill="none" stroke="#5c9cc6" stroke-width="1.7" stroke-linejoin="round"/><polyline points="187.0,60.2 183.8,64.4 182.3,68.5 182.8,73.8 181.8,77.9 182.3,82.1 181.2,84.7" fill="none" stroke="#000" stroke-opacity="0.82" stroke-width="1.15" stroke-linejoin="round"/><polyline points="170.3,79.5 178.6,81.6 181.2,84.7 188.0,85.2" fill="none" stroke="#000" stroke-opacity="0.82" stroke-width="1.15" stroke-linejoin="round"/><polyline points="188.0,85.2 189.0,90.4 191.1,94.6 195.3,96.7 198.4,98.8 202.6,100.8 205.7,98.8 205.7,94.6 208.8,92.5 214.0,89.4 217.2,87.3 219.2,89.4 219.2,94.4 297.5,94.4" fill="none" stroke="#000" stroke-opacity="0.82" stroke-width="1.15" stroke-linejoin="round"/><polyline points="251.8,59.5 251.8,94.4" fill="none" stroke="#000" stroke-opacity="0.82" stroke-width="1.15" stroke-linejoin="round"/><polyline points="190.0,94.6 189.0,98.8 188.5,103.0 186.0,104.0 185.8,107.0 186.3,115.0 186.5,125.0 186.5,142.0" fill="none" stroke="#000" stroke-opacity="0.82" stroke-width="1.15" stroke-linejoin="round"/><polyline points="219.2,94.4 218.2,98.8 216.1,104.0 214.0,109.2 212.0,113.3 210.0,119.1 204.9,126.0 200.5,130.4" fill="none" stroke="#000" stroke-opacity="0.82" stroke-width="1.15" stroke-linejoin="round"/><polyline points="200.5,130.4 210.0,128.6 227.4,127.8 244.8,126.9 255.6,126.1 263.4,126.1" fill="none" stroke="#000" stroke-opacity="0.82" stroke-width="1.15" stroke-linejoin="round"/><polyline points="255.9,94.4 255.6,126.1" fill="none" stroke="#000" stroke-opacity="0.82" stroke-width="1.15" stroke-linejoin="round"/><polyline points="263.4,126.1 264.0,133.0 267.4,135.8 271.6,132.4 275.8,131.7 281.3,134.4 285.5,137.9 290.1,140.0 292.5,144.9 293.8,149.7 293.2,156.4" fill="none" stroke="#000" stroke-opacity="0.82" stroke-width="1.15" stroke-linejoin="round"/><polyline points="200.5,130.4 201.4,131.2 203.1,142.5" fill="none" stroke="#000" stroke-opacity="0.82" stroke-width="1.15" stroke-linejoin="round"/><polyline points="168.5,141.7 185.8,141.7 203.1,142.5" fill="none" stroke="#000" stroke-opacity="0.82" stroke-width="1.15" stroke-linejoin="round"/><polyline points="203.1,142.5 204.9,152.1 204.9,160.8 208.3,162.5" fill="none" stroke="#000" stroke-opacity="0.82" stroke-width="1.15" stroke-linejoin="round"/><polyline points="255.6,126.1 252.2,133.0 250.8,137.5 247.0,140.5 245.2,144.9 240.3,148.5 233.0,149.5 223.0,151.5 204.9,152.1" fill="none" stroke="#000" stroke-opacity="0.82" stroke-width="1.15" stroke-linejoin="round"/><polyline points="251.0,137.5 252.4,147.3 256.1,153.4 261.0,159.4 263.4,161.3" fill="none" stroke="#000" stroke-opacity="0.82" stroke-width="1.15" stroke-linejoin="round"/><polyline points="263.4,161.3 267.0,157.0 269.5,154.6 275.5,157.0 284.0,156.4 297.4,156.4" fill="none" stroke="#000" stroke-opacity="0.82" stroke-width="1.15" stroke-linejoin="round"/><polyline points="263.4,161.3 261.0,164.3 256.1,165.5 253.7,168.0 252.4,171.6 245.2,172.8 236.6,173.4" fill="none" stroke="#000" stroke-opacity="0.82" stroke-width="1.15" stroke-linejoin="round"/><polyline points="264.6,161.9 265.2,168.0 269.5,167.3 275.5,164.9 279.2,165.5 281.6,167.3 297.4,167.3" fill="none" stroke="#000" stroke-opacity="0.82" stroke-width="1.15" stroke-linejoin="round"/><polyline points="265.2,168.0 259.7,170.4 257.3,174.0 256.7,180.1 256.1,185.0" fill="none" stroke="#000" stroke-opacity="0.82" stroke-width="1.15" stroke-linejoin="round"/><polyline points="257.3,185.0 263.4,181.3 269.5,176.5 274.3,173.4 281.6,172.8 297.4,172.8" fill="none" stroke="#000" stroke-opacity="0.82" stroke-width="1.15" stroke-linejoin="round"/><polyline points="245.2,172.8 245.8,180.1 246.4,187.4" fill="none" stroke="#000" stroke-opacity="0.82" stroke-width="1.15" stroke-linejoin="round"/><polyline points="233.0,188.6 237.9,188.6 246.4,187.4 251.2,186.2 257.3,185.0" fill="none" stroke="#000" stroke-opacity="0.82" stroke-width="1.15" stroke-linejoin="round"/><polyline points="262.2,191.0 267.0,188.0 271.9,186.2 278.0,187.4 284.0,186.8 292.5,183.7 296.0,182.5" fill="none" stroke="#000" stroke-opacity="0.82" stroke-width="1.15" stroke-linejoin="round"/><polyline points="251.2,186.2 250.6,197.1 261.0,197.1 262.2,191.0" fill="none" stroke="#000" stroke-opacity="0.82" stroke-width="1.15" stroke-linejoin="round"/><polyline points="208.3,169.4 222.0,169.0 234.4,168.6" fill="none" stroke="#000" stroke-opacity="0.82" stroke-width="1.15" stroke-linejoin="round"/><polyline points="218.8,188.5 237.9,188.5" fill="none" stroke="#000" stroke-opacity="0.82" stroke-width="1.15" stroke-linejoin="round"/><polyline points="199.7,164.2 198.8,174.7 198.2,179.2 200.3,184.4 204.5,189.5 208.6,193.7 211.8,197.8 217.0,196.8 220.0,192.6 220.0,188.5 218.0,184.4 218.0,179.2 215.3,176.4 210.0,169.4 208.3,162.5 204.9,160.8 199.7,164.2" fill="none" stroke="#000" stroke-opacity="0.82" stroke-width="1.15" stroke-linejoin="round"/><polyline points="186.0,192.0 193.0,191.6 198.2,189.5 204.5,189.5" fill="none" stroke="#000" stroke-opacity="0.82" stroke-width="1.15" stroke-linejoin="round"/><polyline points="211.8,197.8 212.8,202.0 216.0,207.1 219.0,212.3 221.1,216.4" fill="none" stroke="#000" stroke-opacity="0.82" stroke-width="1.15" stroke-linejoin="round"/><polyline points="220.0,188.5 224.2,190.6 226.3,195.7 228.4,200.9 229.5,205.0 229.5,210.2 227.4,215.4 225.0,219.0" fill="none" stroke="#000" stroke-opacity="0.82" stroke-width="1.15" stroke-linejoin="round"/><polyline points="229.5,205.0 234.7,204.0 239.9,203.5 243.0,204.5" fill="none" stroke="#000" stroke-opacity="0.82" stroke-width="1.15" stroke-linejoin="round"/><polyline points="220.0,187.5 229.5,187.5 237.8,187.5" fill="none" stroke="#000" stroke-opacity="0.82" stroke-width="1.15" stroke-linejoin="round"/><polyline points="243.0,205.0 244.0,210.2 243.0,215.4 245.0,220.6" fill="none" stroke="#000" stroke-opacity="0.82" stroke-width="1.15" stroke-linejoin="round"/><polyline points="201.3,213.3 205.5,215.4 210.7,217.5 214.9,220.6 218.0,222.6" fill="none" stroke="#000" stroke-opacity="0.82" stroke-width="1.15" stroke-linejoin="round"/><polyline points="224.2,227.8 230.5,229.9 236.8,233.0 245.0,234.0 246.5,234.2" fill="none" stroke="#000" stroke-opacity="0.82" stroke-width="1.15" stroke-linejoin="round"/><polyline points="221.0,258.5 226.9,256.0 226.9,249.2" fill="none" stroke="#000" stroke-opacity="0.82" stroke-width="1.15" stroke-linejoin="round"/><polyline points="261.0,197.1 262.5,201.0 264.2,204.0 269.5,204.4 274.7,205.0 283.0,203.8" fill="none" stroke="#000" stroke-opacity="0.82" stroke-width="1.15" stroke-linejoin="round"/><polyline points="248.6,216.5 255.9,215.5 264.2,214.4" fill="none" stroke="#000" stroke-opacity="0.82" stroke-width="1.15" stroke-linejoin="round"/><polyline points="264.2,204.0 264.8,214.4 266.3,218.6 266.9,224.8 267.4,230.0 267.4,237.3" fill="none" stroke="#000" stroke-opacity="0.82" stroke-width="1.15" stroke-linejoin="round"/><polyline points="267.4,237.3 259.0,238.4 253.8,242.5 249.7,247.2" fill="none" stroke="#000" stroke-opacity="0.82" stroke-width="1.15" stroke-linejoin="round"/><polyline points="266.3,217.5 274.7,213.4 278.8,210.2 285.1,208.2 293.0,206.1 295.2,207.4" fill="none" stroke="#000" stroke-opacity="0.82" stroke-width="1.15" stroke-linejoin="round"/><polyline points="266.3,219.6 270.5,224.8 275.7,232.1 280.9,237.3 285.1,241.0" fill="none" stroke="#000" stroke-opacity="0.82" stroke-width="1.15" stroke-linejoin="round"/><polyline points="276.8,233.2 280.9,226.9 285.1,220.7 289.2,214.4 295.2,207.4" fill="none" stroke="#000" stroke-opacity="0.82" stroke-width="1.15" stroke-linejoin="round"/><polyline points="285.1,241.0 292.7,235.2 301.2,235.2 311.0,231.6 317.0,232.8 323.1,236.4" fill="none" stroke="#000" stroke-opacity="0.82" stroke-width="1.15" stroke-linejoin="round"/><polyline points="285.1,241.0 288.2,247.8 291.3,254.0 294.0,258.1 296.4,259.3" fill="none" stroke="#000" stroke-opacity="0.82" stroke-width="1.15" stroke-linejoin="round"/><polyline points="257.0,264.0 262.2,258.2 266.3,251.9 274.7,247.8 280.9,244.6 285.1,241.0" fill="none" stroke="#000" stroke-opacity="0.82" stroke-width="1.15" stroke-linejoin="round"/><polyline points="246.5,226.9 247.1,235.2 247.6,243.6 249.1,247.8 250.7,254.0 252.8,260.2 257.0,264.0" fill="none" stroke="#000" stroke-opacity="0.82" stroke-width="1.15" stroke-linejoin="round"/><polyline points="233.0,237.3 239.2,235.8 246.5,234.2" fill="none" stroke="#000" stroke-opacity="0.82" stroke-width="1.15" stroke-linejoin="round"/><polyline points="226.0,248.8 233.0,248.8 241.3,248.3 249.1,247.8" fill="none" stroke="#000" stroke-opacity="0.82" stroke-width="1.15" stroke-linejoin="round"/><polyline points="295.2,207.4 301.2,210.5 307.3,209.9 311.0,211.1 310.3,217.1 313.4,220.7 319.5,224.3 321.9,229.2 323.1,235.2 324.9,237.6 328.6,238.8 332.8,244.8 338.9,248.4 353.0,248.4 370.0,248.2" fill="none" stroke="#000" stroke-opacity="0.82" stroke-width="1.15" stroke-linejoin="round"/><polyline points="311.0,211.1 312.2,203.8 309.7,199.0 310.0,197.0" fill="none" stroke="#000" stroke-opacity="0.82" stroke-width="1.15" stroke-linejoin="round"/><polyline points="295.2,199.0 295.2,207.4" fill="none" stroke="#000" stroke-opacity="0.82" stroke-width="1.15" stroke-linejoin="round"/><polyline points="283.0,203.8 289.1,202.6 295.2,201.4 300.0,199.0" fill="none" stroke="#000" stroke-opacity="0.82" stroke-width="1.15" stroke-linejoin="round"/><polyline points="296.4,259.3 304.9,250.9 312.2,243.6 319.5,236.4 323.1,236.4" fill="none" stroke="#000" stroke-opacity="0.82" stroke-width="1.15" stroke-linejoin="round"/><polyline points="283.0,261.7 290.3,260.5 296.4,259.3" fill="none" stroke="#000" stroke-opacity="0.82" stroke-width="1.15" stroke-linejoin="round"/><polyline points="338.9,248.4 340.1,254.5 343.8,259.3 347.4,264.1 349.8,268.5 352.5,272.9 352.5,276.5 355.0,282.6 358.6,289.8 361.0,295.8 363.0,299.4 364.5,308.0 365.0,316.9" fill="none" stroke="#000" stroke-opacity="0.82" stroke-width="1.15" stroke-linejoin="round"/><polyline points="352.5,276.5 331.9,278.3 331.9,281.3 322.2,281.9 321.0,285.0 314.9,285.6 314.9,287.4" fill="none" stroke="#000" stroke-opacity="0.82" stroke-width="1.15" stroke-linejoin="round"/><polyline points="314.9,287.4 315.5,292.2 314.9,298.2 313.7,304.3 313.7,317.5" fill="none" stroke="#000" stroke-opacity="0.82" stroke-width="1.15" stroke-linejoin="round"/><polyline points="254.7,317.5 298.0,317.5 363.0,316.9 378.5,316.8 442.5,316.0" fill="none" stroke="#000" stroke-opacity="0.82" stroke-width="1.15" stroke-linejoin="round"/><polyline points="288.8,312.1 293.6,307.3 298.0,303.6 299.1,301.9 299.1,292.2 300.3,292.2" fill="none" stroke="#000" stroke-opacity="0.82" stroke-width="1.15" stroke-linejoin="round"/><polyline points="245.0,272.3 248.7,278.3 252.3,283.1 256.0,287.9 260.8,292.8 264.5,297.6 270.5,297.6 274.2,297.6 276.6,300.0 279.0,304.9 283.9,309.7 287.5,313.3 290.0,316.9 291.0,321.0 292.2,325.0 294.5,325.5 296.3,329.5 298.4,331.4 300.5,335.0 302.5,335.2 304.7,337.0 306.8,340.5 309.0,340.8 310.9,342.5 313.0,345.5 316.1,347.5 317.3,353.9" fill="none" stroke="#000" stroke-opacity="0.82" stroke-width="1.15" stroke-linejoin="round"/><polyline points="257.2,268.7 258.4,272.3 263.2,277.1 268.1,279.5 273.0,283.1 276.6,288.0 277.8,292.8 276.6,296.4" fill="none" stroke="#000" stroke-opacity="0.82" stroke-width="1.15" stroke-linejoin="round"/><polyline points="268.1,278.3 274.2,272.3 280.3,266.2 285.1,262.6 293.6,260.2 296.4,259.3" fill="none" stroke="#000" stroke-opacity="0.82" stroke-width="1.15" stroke-linejoin="round"/><polyline points="249.9,256.6 252.3,260.2 257.2,262.6 257.2,268.7" fill="none" stroke="#000" stroke-opacity="0.82" stroke-width="1.15" stroke-linejoin="round"/><polyline points="228.0,259.0 235.3,263.8 240.2,268.7 245.0,271.1" fill="none" stroke="#000" stroke-opacity="0.82" stroke-width="1.15" stroke-linejoin="round"/><polyline points="238.9,271.7 245.0,271.1 252.3,268.7 257.2,268.7" fill="none" stroke="#000" stroke-opacity="0.82" stroke-width="1.15" stroke-linejoin="round"/><polyline points="257.2,262.6 262.0,259.0 264.5,256.6 266.3,251.9" fill="none" stroke="#000" stroke-opacity="0.82" stroke-width="1.15" stroke-linejoin="round"/><polyline points="279.1,351.0 288.6,348.2 295.3,346.3 303.9,350.1 313.5,353.0 317.3,354.9" fill="none" stroke="#000" stroke-opacity="0.82" stroke-width="1.15" stroke-linejoin="round"/><polyline points="317.3,354.9 326.8,356.8 336.4,358.7 340.2,360.6" fill="none" stroke="#000" stroke-opacity="0.82" stroke-width="1.15" stroke-linejoin="round"/><polyline points="317.3,354.9 317.3,374.9" fill="none" stroke="#000" stroke-opacity="0.82" stroke-width="1.15" stroke-linejoin="round"/><polyline points="336.4,358.7 340.2,365.4 344.0,374.9 342.1,384.5 338.0,388.0" fill="none" stroke="#000" stroke-opacity="0.82" stroke-width="1.15" stroke-linejoin="round"/><polyline points="336.4,358.7 355.5,357.7 378.4,356.8" fill="none" stroke="#000" stroke-opacity="0.82" stroke-width="1.15" stroke-linejoin="round"/><polyline points="378.4,316.8 378.4,356.8 379.3,382.6 378.4,390.2" fill="none" stroke="#000" stroke-opacity="0.82" stroke-width="1.15" stroke-linejoin="round"/><polyline points="366.9,392.1 374.6,394.0 378.4,390.2" fill="none" stroke="#000" stroke-opacity="0.82" stroke-width="1.15" stroke-linejoin="round"/><polyline points="378.4,390.2 386.0,403.6 387.9,409.3" fill="none" stroke="#000" stroke-opacity="0.82" stroke-width="1.15" stroke-linejoin="round"/><polyline points="378.4,390.2 393.7,389.2 420.0,388.3 460.0,386.5 487.5,385.5" fill="none" stroke="#000" stroke-opacity="0.82" stroke-width="1.15" stroke-linejoin="round"/><polyline points="386.0,409.3 403.2,412.1 420.0,412.1 486.0,411.0" fill="none" stroke="#000" stroke-opacity="0.82" stroke-width="1.15" stroke-linejoin="round"/><polyline points="434.4,411.5 435.0,425.0 436.0,447.0" fill="none" stroke="#000" stroke-opacity="0.82" stroke-width="1.15" stroke-linejoin="round"/><polygon points="221.0,216.0 223.0,214.6 224.6,216.8 224.4,220.0 221.8,220.8" fill="#000"/><polygon points="224.2,221.8 228.0,220.8 231.7,219.4 233.8,220.6 238.0,221.1 242.1,221.3 246.0,221.9 250.0,222.6 252.3,223.6 252.3,226.6 250.0,226.8 246.0,226.4 242.1,226.2 236.0,225.6 231.7,225.3 228.0,225.3 224.4,225.4" fill="#000"/><polyline points="208.0,230.8 211.5,231.3 214.9,233.4 216.2,232.0" fill="none" stroke="#000" stroke-width="2.1" stroke-linejoin="round"/><polyline points="220.6,219.9 223.5,221.0 224.2,223.5 222.6,226.3 219.5,226.6 217.6,224.5 218.2,221.2 220.6,219.9" fill="none" stroke="#000" stroke-width="2.1" stroke-linejoin="round"/><polyline points="218.6,226.4 218.1,230.2 217.1,234.4 219.2,239.6 221.2,242.7 225.4,245.8 229.6,247.9 231.5,248.4" fill="none" stroke="#000" stroke-width="2.1" stroke-linejoin="round"/><polyline points="221.6,226.4 221.2,230.2 224.4,234.4 226.5,238.5 228.5,242.7 229.6,246.9" fill="none" stroke="#000" stroke-width="2.1" stroke-linejoin="round"/><polyline points="218.4,235.5 220.0,235.0 221.0,237.0 219.5,238.2 218.2,237.0" fill="none" stroke="#000" stroke-width="2.1" stroke-linejoin="round"/></g><polygon points="167.4,59.2 167.4,63.9 166.5,67.4 168.2,70.0 170.8,73.4 171.7,78.6 170.8,84.7 170.0,90.0 168.2,95.1 168.2,102.0 167.4,107.3 163.9,112.5 160.4,119.4 159.5,124.6 161.3,129.9 163.9,135.1 167.4,140.3 171.0,145.5 175.5,152.0 177.4,160.8 177.4,171.3 177.6,183.4 180.8,190.3 186.9,197.3 193.0,204.2 198.2,210.3 200.4,212.5 201.5,216.0 202.5,220.0 201.5,224.0 200.4,225.5 202.5,223.5 205.0,225.0 208.0,228.5 211.5,230.8 214.9,232.8 216.8,232.6 216.6,235.4 216.0,241.7 215.4,245.0 217.5,248.1 218.5,253.3 218.5,258.5 221.7,262.2 225.8,266.9 230.0,269.5 235.2,270.0 238.3,272.1 239.4,275.2 238.3,280.4 235.2,283.5 233.1,285.6 234.2,291.9 236.2,297.1 240.4,301.2 244.6,305.0 249.3,310.8 254.5,317.8 259.7,323.9 265.7,331.0 269.5,334.8 271.5,342.5 276.2,348.2 278.1,357.7 279.1,367.3 284.8,371.1 298.2,373.0 311.6,374.9 321.1,378.7 326.8,382.6 336.4,386.4 344.0,388.3 351.6,390.2 355.5,395.9 357.4,399.7 363.1,400.7 368.8,403.6 374.6,407.4 382.2,413.1 386.0,416.9 389.0,422.0 393.3,430.5 396.0,440.3 398.9,447.0 399.5,450.4 462.0,441.0 482.8,437.9 487.0,436.9 490.1,433.8 491.2,429.6 490.1,425.9 487.0,424.9 483.9,422.3 482.8,417.1 482.3,412.9 483.9,409.8 486.5,405.6 487.0,400.4 487.3,395.0 487.2,390.7 487.8,387.0 489.0,382.2 491.5,378.5 496.4,374.9 498.8,372.4 495.1,368.8 490.3,365.1 489.0,361.5 486.6,356.6 483.0,353.0 480.5,348.1 480.5,344.5 299.0,187.8 297.4,186.0 297.2,62.0" fill="none" stroke="#000" stroke-width="2.1" stroke-linejoin="round"/><polygon points="282.7,389.5 285.0,388.3 288.5,389.2 289.0,390.8 285.5,391.5 283.0,391.0" fill="#000" stroke="#000" stroke-width="1.6" stroke-linejoin="round"/><polygon points="290.5,391.0 294.0,389.9 298.0,391.0 299.9,393.0 296.5,396.2 293.0,396.7 291.5,394.0" fill="#f7d17e" stroke="#000" stroke-width="1.6" stroke-linejoin="round"/><polygon points="301.4,389.5 305.0,388.3 309.0,389.2 312.0,389.4 315.0,388.8 314.0,391.5 310.0,392.8 305.0,393.5 302.5,392.5" fill="#f7d17e" stroke="#000" stroke-width="1.6" stroke-linejoin="round"/><polygon points="317.2,390.3 321.5,390.2 321.7,391.3 317.4,391.5" fill="#000" stroke="#000" stroke-width="1.6" stroke-linejoin="round"/><polygon points="331.0,412.5 333.0,412.3 333.2,414.2 331.2,414.4" fill="#000" stroke="#000" stroke-width="1.6" stroke-linejoin="round"/><polygon points="313.0,421.5 316.0,420.6 319.5,422.5 319.7,424.4 316.5,424.8 313.5,423.5" fill="#000" stroke="#000" stroke-width="1.6" stroke-linejoin="round"/><polygon points="346.8,412.6 349.5,411.8 353.0,413.5 356.5,416.0 358.2,419.0 356.0,420.6 352.5,419.5 349.5,416.5" fill="#f7d17e" stroke="#000" stroke-width="1.6" stroke-linejoin="round"/><polygon points="346.8,430.5 348.5,430.0 352.0,434.0 355.0,438.5 354.0,440.0 351.0,437.0 348.0,433.0" fill="#000" stroke="#000" stroke-width="1.6" stroke-linejoin="round"/><polygon points="193.0,233.6 195.2,234.0 195.0,234.8 193.0,234.4" fill="#000" stroke="#000" stroke-width="1.6" stroke-linejoin="round"/><polygon points="198.3,236.4 199.8,236.9 199.6,237.7 198.2,237.2" fill="#000" stroke="#000" stroke-width="1.6" stroke-linejoin="round"/><polygon points="200.2,215.0 201.6,217.0 202.3,221.0 201.6,224.5 200.6,225.6 200.3,222.0 199.8,218.0" fill="#000" stroke="#000" stroke-width="1.6" stroke-linejoin="round"/><polygon points="435.6,409.6 437.6,408.4 440.0,409.6 443.6,412.6 448.2,415.6 451.2,418.4 451.4,421.2 449.0,422.8 446.2,421.6 443.2,418.8 439.2,415.6 436.0,412.6" fill="#b0daee" stroke="#7b9fb5" stroke-width="0.7"/><polygon points="295.5,176.5 297.5,177.0 298.6,182.0 298.3,187.4 296.5,187.0 295.2,182.0" fill="#a8d4ee" stroke="#7aa6c4" stroke-width="0.6"/></g>
<rect x="747.2" y="63.8" width="36.4" height="17.6" fill="#ffff00"/>
<text x="793.2" y="79.0" textLength="104" lengthAdjust="spacingAndGlyphs" font-family="Liberation Sans, sans-serif" font-size="12.2" fill="#2a2a2a" stroke="#2a2a2a" stroke-width="0.25">D0 Abnormally Dry</text>
<rect x="747.2" y="91" width="36.4" height="17.6" fill="#f7d17e"/>
<text x="793.2" y="106.2" textLength="120" lengthAdjust="spacingAndGlyphs" font-family="Liberation Sans, sans-serif" font-size="12.2" fill="#2a2a2a" stroke="#2a2a2a" stroke-width="0.25">D1 Moderate Drought</text>
<rect x="747.2" y="118" width="36.4" height="17.6" fill="#f6ae0c"/>
<text x="793.2" y="133.2" textLength="107" lengthAdjust="spacingAndGlyphs" font-family="Liberation Sans, sans-serif" font-size="12.2" fill="#2a2a2a" stroke="#2a2a2a" stroke-width="0.25">D2 Severe Drought</text>
<rect x="747.2" y="144.6" width="36.4" height="17.6" fill="#d50206"/>
<text x="793.2" y="159.8" textLength="114" lengthAdjust="spacingAndGlyphs" font-family="Liberation Sans, sans-serif" font-size="12.2" fill="#2a2a2a" stroke="#2a2a2a" stroke-width="0.25">D3 Extreme Drought</text>
<rect x="747.2" y="171.3" width="36.4" height="17.6" fill="#730000"/>
<text x="793.2" y="186.5" textLength="132" lengthAdjust="spacingAndGlyphs" font-family="Liberation Sans, sans-serif" font-size="12.2" fill="#2a2a2a" stroke="#2a2a2a" stroke-width="0.25">D4 Exceptional Drought</text>
<g font-family="Liberation Sans, sans-serif" fill="#000" stroke="#000" stroke-linejoin="round"><text transform="translate(250.21,506.0) scale(0.4948,1)" font-size="37.50" stroke-width="0.6">A</text><text transform="translate(251.11,506.0) scale(0.4948,1)" font-size="37.50" stroke-width="0.6">A</text><text transform="translate(252.01,506.0) scale(0.4948,1)" font-size="37.50" stroke-width="0.6">A</text><text transform="translate(264.60,506.0) scale(0.5399,1)" font-size="37.50" stroke-width="0.6">P</text><text transform="translate(265.50,506.0) scale(0.5399,1)" font-size="37.50" stroke-width="0.6">P</text><text transform="translate(266.40,506.0) scale(0.5399,1)" font-size="37.50" stroke-width="0.6">P</text><text transform="translate(279.15,506.0) scale(0.4854,1)" font-size="37.50" stroke-width="0.6">R</text><text transform="translate(280.05,506.0) scale(0.4854,1)" font-size="37.50" stroke-width="0.6">R</text><text transform="translate(280.95,506.0) scale(0.4854,1)" font-size="37.50" stroke-width="0.6">R</text><text transform="translate(294.58,506.0) scale(0.5125,1)" font-size="37.50" stroke-width="0.6">I</text><text transform="translate(295.48,506.0) scale(0.5125,1)" font-size="37.50" stroke-width="0.6">I</text><text transform="translate(296.38,506.0) scale(0.5125,1)" font-size="37.50" stroke-width="0.6">I</text><text transform="translate(302.03,506.0) scale(0.4202,1)" font-size="37.50" stroke-width="0.6">L</text><text transform="translate(302.93,506.0) scale(0.4202,1)" font-size="37.50" stroke-width="0.6">L</text><text transform="translate(303.83,506.0) scale(0.4202,1)" font-size="37.50" stroke-width="0.6">L</text><text transform="translate(319.02,506.0) scale(0.5114,1)" font-size="37.50" stroke-width="0.6">3</text><text transform="translate(319.92,506.0) scale(0.5114,1)" font-size="37.50" stroke-width="0.6">3</text><text transform="translate(320.82,506.0) scale(0.5114,1)" font-size="37.50" stroke-width="0.6">3</text><text transform="translate(329.53,506.0) scale(0.9345,1)" font-size="37.50" stroke-width="0.6">,</text><text transform="translate(330.43,506.0) scale(0.9345,1)" font-size="37.50" stroke-width="0.6">,</text><text transform="translate(331.33,506.0) scale(0.9345,1)" font-size="37.50" stroke-width="0.6">,</text><text transform="translate(346.56,506.0) scale(0.5316,1)" font-size="37.50" stroke-width="0.6">2</text><text transform="translate(347.46,506.0) scale(0.5316,1)" font-size="37.50" stroke-width="0.6">2</text><text transform="translate(348.36,506.0) scale(0.5316,1)" font-size="37.50" stroke-width="0.6">2</text><text transform="translate(359.55,506.0) scale(0.5560,1)" font-size="37.50" stroke-width="0.6">0</text><text transform="translate(360.45,506.0) scale(0.5560,1)" font-size="37.50" stroke-width="0.6">0</text><text transform="translate(361.35,506.0) scale(0.5560,1)" font-size="37.50" stroke-width="0.6">0</text><polygon points="377.70,479.7 381.40,479.7 381.40,506.3 377.70,506.3 377.70,486.5 374.80,488.8 374.80,484.6 377.70,479.7" stroke-width="0.3"/><text transform="translate(383.58,506.0) scale(0.5386,1)" font-size="37.50" stroke-width="0.6">8</text><text transform="translate(384.48,506.0) scale(0.5386,1)" font-size="37.50" stroke-width="0.6">8</text><text transform="translate(385.38,506.0) scale(0.5386,1)" font-size="37.50" stroke-width="0.6">8</text><text transform="translate(597.24,506.0) scale(0.5615,1)" font-size="37.50" stroke-width="0.6">N</text><text transform="translate(598.14,506.0) scale(0.5615,1)" font-size="37.50" stroke-width="0.6">N</text><text transform="translate(599.04,506.0) scale(0.5615,1)" font-size="37.50" stroke-width="0.6">N</text><text transform="translate(613.64,506.0) scale(0.4466,1)" font-size="37.50" stroke-width="0.6">O</text><text transform="translate(614.54,506.0) scale(0.4466,1)" font-size="37.50" stroke-width="0.6">O</text><text transform="translate(615.44,506.0) scale(0.4466,1)" font-size="37.50" stroke-width="0.6">O</text><text transform="translate(628.87,506.0) scale(0.4825,1)" font-size="37.50" stroke-width="0.6">V</text><text transform="translate(629.77,506.0) scale(0.4825,1)" font-size="37.50" stroke-width="0.6">V</text><text transform="translate(630.67,506.0) scale(0.4825,1)" font-size="37.50" stroke-width="0.6">V</text><text transform="translate(643.29,506.0) scale(0.4014,1)" font-size="37.50" stroke-width="0.6">E</text><text transform="translate(644.19,506.0) scale(0.4014,1)" font-size="37.50" stroke-width="0.6">E</text><text transform="translate(645.09,506.0) scale(0.4014,1)" font-size="37.50" stroke-width="0.6">E</text><text transform="translate(655.25,506.0) scale(0.5567,1)" font-size="37.50" stroke-width="0.6">M</text><text transform="translate(656.15,506.0) scale(0.5567,1)" font-size="37.50" stroke-width="0.6">M</text><text transform="translate(657.05,506.0) scale(0.5567,1)" font-size="37.50" stroke-width="0.6">M</text><text transform="translate(673.43,506.0) scale(0.5642,1)" font-size="37.50" stroke-width="0.6">B</text><text transform="translate(674.33,506.0) scale(0.5642,1)" font-size="37.50" stroke-width="0.6">B</text><text transform="translate(675.23,506.0) scale(0.5642,1)" font-size="37.50" stroke-width="0.6">B</text><text transform="translate(689.59,506.0) scale(0.4014,1)" font-size="37.50" stroke-width="0.6">E</text><text transform="translate(690.49,506.0) scale(0.4014,1)" font-size="37.50" stroke-width="0.6">E</text><text transform="translate(691.39,506.0) scale(0.4014,1)" font-size="37.50" stroke-width="0.6">E</text><text transform="translate(701.40,506.0) scale(0.5029,1)" font-size="37.50" stroke-width="0.6">R</text><text transform="translate(702.30,506.0) scale(0.5029,1)" font-size="37.50" stroke-width="0.6">R</text><text transform="translate(703.20,506.0) scale(0.5029,1)" font-size="37.50" stroke-width="0.6">R</text><text transform="translate(724.08,506.0) scale(0.5824,1)" font-size="37.50" stroke-width="0.6">2</text><text transform="translate(724.98,506.0) scale(0.5824,1)" font-size="37.50" stroke-width="0.6">2</text><text transform="translate(725.88,506.0) scale(0.5824,1)" font-size="37.50" stroke-width="0.6">2</text><text transform="translate(737.04,506.0) scale(0.5327,1)" font-size="37.50" stroke-width="0.6">7</text><text transform="translate(737.94,506.0) scale(0.5327,1)" font-size="37.50" stroke-width="0.6">7</text><text transform="translate(738.84,506.0) scale(0.5327,1)" font-size="37.50" stroke-width="0.6">7</text><text transform="translate(747.45,506.0) scale(0.7009,1)" font-size="37.50" stroke-width="0.6">,</text><text transform="translate(748.35,506.0) scale(0.7009,1)" font-size="37.50" stroke-width="0.6">,</text><text transform="translate(749.25,506.0) scale(0.7009,1)" font-size="37.50" stroke-width="0.6">,</text><text transform="translate(761.42,506.0) scale(0.6164,1)" font-size="37.50" stroke-width="0.6">2</text><text transform="translate(762.32,506.0) scale(0.6164,1)" font-size="37.50" stroke-width="0.6">2</text><text transform="translate(763.22,506.0) scale(0.6164,1)" font-size="37.50" stroke-width="0.6">2</text><text transform="translate(776.27,506.0) scale(0.6261,1)" font-size="37.50" stroke-width="0.6">0</text><text transform="translate(777.17,506.0) scale(0.6261,1)" font-size="37.50" stroke-width="0.6">0</text><text transform="translate(778.07,506.0) scale(0.6261,1)" font-size="37.50" stroke-width="0.6">0</text><polygon points="796.20,479.7 799.90,479.7 799.90,506.3 796.20,506.3 796.20,486.5 792.90,488.8 792.90,484.6 796.20,479.7" stroke-width="0.3"/><text transform="translate(801.19,506.0) scale(0.4616,1)" font-size="37.50" stroke-width="0.6">8</text><text transform="translate(802.09,506.0) scale(0.4616,1)" font-size="37.50" stroke-width="0.6">8</text><text transform="translate(802.99,506.0) scale(0.4616,1)" font-size="37.50" stroke-width="0.6">8</text></g>
</svg>
</body></html>
